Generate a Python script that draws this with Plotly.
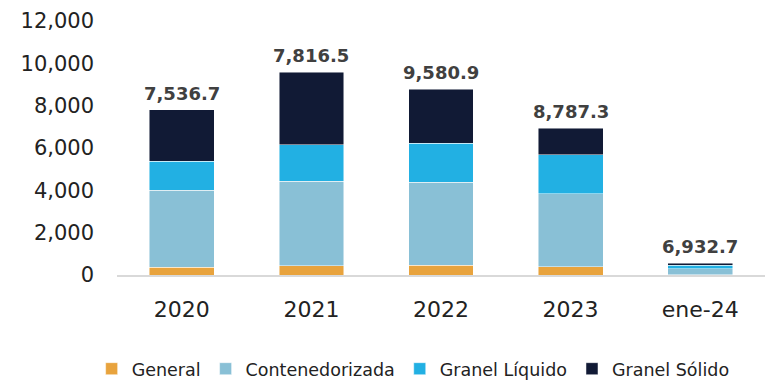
import plotly.graph_objects as go

# Periods on the category axis
periods = ["2020", "2021", "2022", "2023", "ene-24"]

# Stacked cargo segments (thousand tonnes)
general = [360, 440, 460, 390, 20]
contenedorizada = [3650, 4000, 3930, 3450, 280]
granel_liquido = [1370, 1715, 1830, 1830, 160]
granel_solido = [2436.5, 3425.9, 2567.3, 1262.7, 90]

# Total labels printed above each column
total_labels = [7536.7, 7816.5, 9580.9, 8787.3, 6932.7]

series = [
    ("General", general, "#E8A33D"),
    ("Contenedorizada", contenedorizada, "#89C0D6"),
    ("Granel Líquido", granel_liquido, "#22B0E3"),
    ("Granel Sólido", granel_solido, "#111A35"),
]

fig = go.Figure()
for name, vals, color in series:
    fig.add_trace(go.Bar(
        x=periods, y=vals, name=name,
        marker=dict(color=color, line=dict(color="rgba(255,255,255,0.6)", width=0.8)),
    ))

# Annotations use the category index so numeric-looking names aren't read as coordinates
stack_tops = [sum(v) for v in zip(general, contenedorizada, granel_liquido, granel_solido)]
for i, (top, lab) in enumerate(zip(stack_tops, total_labels)):
    fig.add_annotation(
        x=i, y=top, text=f"{lab:,.1f}", showarrow=False,
        yanchor="bottom", yshift=4,
        font=dict(family="DejaVu Sans", size=18, color="#404040", weight="bold"),
    )

fig.update_layout(
    barmode="stack",
    bargap=0.5,
    width=767, height=381,
    margin=dict(l=117, r=2, t=21, b=106, autoexpand=False),
    plot_bgcolor="white", paper_bgcolor="white",
    font=dict(family="DejaVu Sans", color="#222222"),
    showlegend=True,
    legend=dict(
        orientation="h", x=0.457, xanchor="center",
        yref="container", y=0.032, yanchor="middle",
        font=dict(size=17.5, color="#222222"), traceorder="normal",
        itemwidth=30, borderwidth=0,
    ),
)
fig.update_yaxes(
    range=[0, 12000], tickvals=list(range(0, 12001, 2000)),
    tickformat=",", showgrid=False, zeroline=False, showline=False,
    tickfont=dict(size=21, color="#222222"), ticklabelstandoff=22,
)
fig.update_xaxes(
    type="category", range=[-0.5, 4.5],
    showline=True, linecolor="#D9D9D9", linewidth=2,
    tickfont=dict(size=22, color="#222222"), ticklabelstandoff=14,
)

fig.write_html("out.html")
